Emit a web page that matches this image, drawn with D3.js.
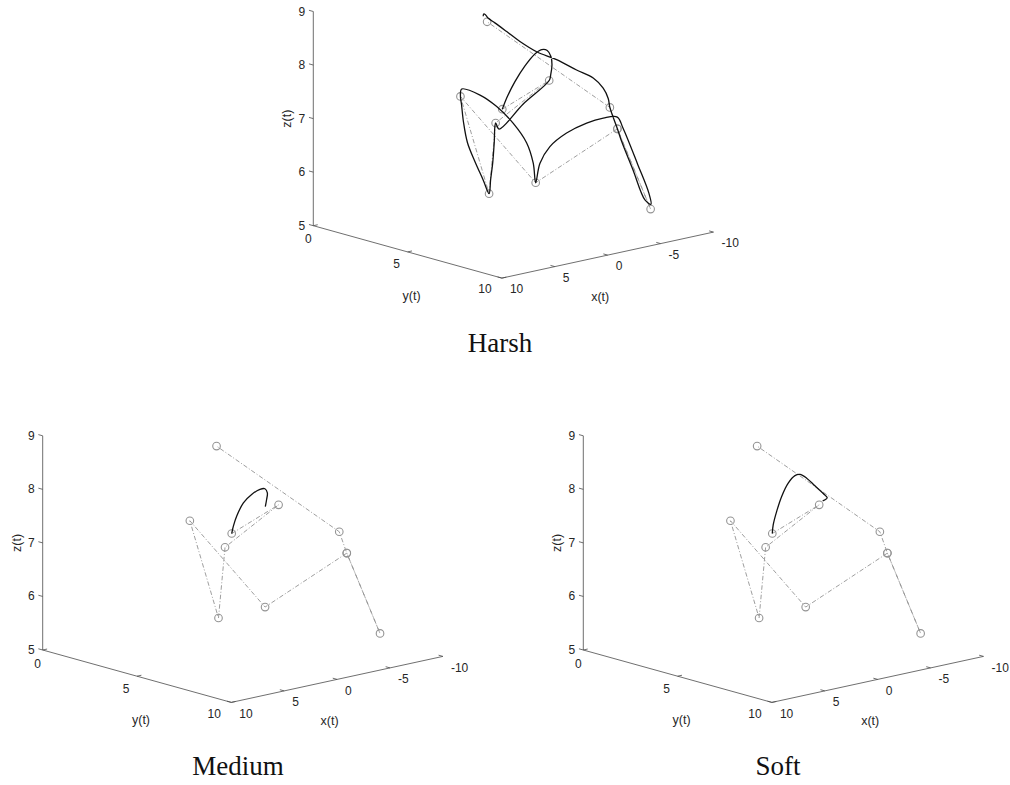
<!DOCTYPE html>
<html>
<head>
<meta charset="utf-8">
<script src="https://cdn.jsdelivr.net/npm/d3@7"></script>
<style>
  body { margin: 0; background: #fff; }
  text { font-family: "Liberation Sans", Arial, sans-serif; fill: #262626; }
  .title { font-family: "Liberation Serif", "DejaVu Serif", serif; fill: #111; }
</style>
</head>
<body>
<svg id="chart" width="1010" height="785"></svg>
<script>
// ---- axis ticks ----
const xTicks = [10, 5, 0, -5, -10];
const yTicks = [0, 5, 10];
const zTicks = [5, 6, 7, 8, 9];

// ---- reference waypoints, in the order they are visited ----
const wpX = [1.05, -1.6, 1.68, 4.08, 1.44, 1.46, -4.48, -5.84, -4.48, -3.77, 0.7];
const wpY = [5, 6, 5, 6, 3, 7, 8, 9, 8, 8, 4];
const wpZ = [7.28, 7.80, 7.05, 5.93, 7.34, 6.12, 6.97, 5.51, 6.97, 7.40, 8.8];

// ---- flown trajectory, harsh gains ----
const harshX = [1.05, 0.76, 0.21, -0.56, -1.32, -1.78, -2.13, -2.30, -2.22, -1.92, -1.6,
  -0.04, 1.54, 1.68, 2.35, 2.85, 3.58, 4.08, 3.74, 3.63, 3.27, 2.58, 1.88, 1.44,
  1.50, 0.66, 0.33, 0.01, 0.17, 0.62, 1.46, 1.33, 0.65, -0.57, -2.11, -3.41, -4.47,
  -4.83, -5.53, -6.03, -5.87, -5.66, -5.06, -4.55, -4.48, -3.77, -3.97, -4.03, -3.80,
  -3.12, -2.30, -1.31, -0.44, 0.10, 0.50, 0.59, 0.86, 1.03, 1.07];
const harshY = [5, 5.1, 5.2, 5.3, 5.4, 5.5, 5.6, 5.7, 5.8, 5.9, 6,
  5.5, 5.1, 5, 5.3, 5.5, 5.8, 6, 5.5, 5, 4.4, 3.8, 3.3, 3,
  3.1, 3.6, 4.3, 5, 5.8, 6.4, 7, 7.15, 7.3, 7.5, 7.7, 7.85, 8,
  8.1, 8.5, 8.8, 9, 8.8, 8.5, 8.2, 8, 8, 7.8, 7.5, 7.1,
  6.6, 6, 5.5, 5.1, 4.7, 4.3, 4, 4, 4, 4];
const harshZ = [7.28, 7.51, 7.78, 8.05, 8.25, 8.32, 8.30, 8.19, 8.05, 7.88, 7.80,
  7.38, 6.94, 7.05, 6.73, 6.40, 6.15, 5.93, 6.12, 6.41, 6.69, 6.99, 7.25, 7.34,
  7.49, 7.39, 7.23, 6.97, 6.69, 6.39, 6.12, 6.49, 6.79, 7.01, 7.15, 7.20, 7.19,
  6.98, 6.30, 5.78, 5.60, 5.67, 6.23, 6.74, 6.97, 7.40, 7.54, 7.70, 7.86,
  7.99, 8.16, 8.30, 8.49, 8.66, 8.80, 8.86, 8.94, 8.96, 8.92];

// ---- flown trajectory, medium gains ----
const mediumX = [1.05, 0.98, 0.76, 0.30, -0.30, -0.91, -1.29, -1.43, -1.27, -1.06];
const mediumY = [5, 5.05, 5.1, 5.2, 5.3, 5.4, 5.45, 5.5, 5.55, 5.6];
const mediumZ = [7.28, 7.42, 7.60, 7.84, 7.98, 8.06, 8.06, 7.98, 7.87, 7.75];

// ---- flown trajectory, soft gains ----
const softX = [1.05, 1.05, 0.82, 0.52, 0.08, -0.38, -0.76, -1.22, -1.73, -2.25, -2.45, -2.02];
const softY = [5, 5.05, 5.1, 5.2, 5.3, 5.4, 5.45, 5.55, 5.7, 5.85, 5.95, 5.95];
const softZ = [7.28, 7.45, 7.69, 7.97, 8.21, 8.34, 8.35, 8.27, 8.12, 7.97, 7.89, 7.85];

const zip = (xs, ys, zs) => xs.map((x, i) => ({ x, y: ys[i], z: zs[i] }));
const waypoints = zip(wpX, wpY, wpZ);

const panels = [
  { name: "Harsh",  ox: 313.3, oy: 225.7, path: zip(harshX, harshY, harshZ),   title: [500, 352] },
  { name: "Medium", ox: 42.7,  oy: 650,   path: zip(mediumX, mediumY, mediumZ), title: [238, 775] },
  { name: "Soft",   ox: 583.3, oy: 650,   path: zip(softX, softY, softZ),       title: [778, 775] }
];

// screen vectors spanned by the full x, y and z axis ranges (fixed view)
const XV = [211.6, -46.0];
const YV = [188.6, 52.4];
const ZV = [0, -214.2];

const svg = d3.select("#chart");

panels.forEach(p => {
  const fx = d3.scaleLinear().domain([10, -10]).range([0, 1]);
  const fy = d3.scaleLinear().domain([0, 10]).range([0, 1]);
  const fz = d3.scaleLinear().domain([5, 9]).range([0, 1]);
  const proj = (x, y, z) => [
    p.ox + fx(x) * XV[0] + fy(y) * YV[0] + fz(z) * ZV[0],
    p.oy + fx(x) * XV[1] + fy(y) * YV[1] + fz(z) * ZV[1]
  ];
  const g = svg.append("g");
  const axisColor = "#4a4a4a";

  const seg = (a, b) => g.append("line")
    .attr("x1", a[0]).attr("y1", a[1]).attr("x2", b[0]).attr("y2", b[1])
    .attr("stroke", axisColor).attr("stroke-width", 0.8);

  // axis lines
  seg(proj(10, 0, 5), proj(10, 0, 9));
  seg(proj(10, 0, 5), proj(10, 10, 5));
  seg(proj(10, 10, 5), proj(-10, 10, 5));

  const norm = v => { const l = Math.hypot(v[0], v[1]); return [v[0] / l, v[1] / l]; };
  const nx = norm(XV), ny = norm(YV);
  const tl = 4.5;

  // z axis
  zTicks.forEach(t => {
    const a = proj(10, 0, t);
    seg(a, [a[0] - ny[0] * tl, a[1] - ny[1] * tl]);
    g.append("text").attr("x", a[0] - 8).attr("y", a[1])
      .attr("text-anchor", "end").attr("dominant-baseline", "central")
      .attr("font-size", 12).text(t);
  });
  // y axis
  yTicks.forEach(t => {
    const a = proj(10, t, 5);
    seg(a, [a[0] + nx[0] * tl, a[1] + nx[1] * tl]);
    g.append("text").attr("x", a[0] - 5 - 1.2 * t).attr("y", a[1] + 13.6 - 0.23 * t)
      .attr("text-anchor", "middle").attr("dominant-baseline", "central")
      .attr("font-size", 12).text(t);
  });
  // x axis
  xTicks.forEach(t => {
    const a = proj(t, 10, 5);
    seg(a, [a[0] - ny[0] * tl, a[1] - ny[1] * tl]);
    g.append("text").attr("x", a[0] + 8).attr("y", a[1] + 11.2)
      .attr("text-anchor", "start").attr("dominant-baseline", "central")
      .attr("font-size", 12).text(t);
  });

  // axis titles
  const zl = proj(10, 0, 7);
  g.append("text").attr("transform", `translate(${zl[0] - 26},${zl[1]}) rotate(-90)`)
    .attr("text-anchor", "middle").attr("dominant-baseline", "central")
    .attr("font-size", 12.5).text("z(t)");
  const yl = proj(10, 5, 5);
  g.append("text").attr("x", yl[0] + 4).attr("y", yl[1] + 44)
    .attr("text-anchor", "middle").attr("dominant-baseline", "central")
    .attr("font-size", 12.5).text("y(t)");
  const xl = proj(0, 10, 5);
  g.append("text").attr("x", xl[0] - 7.5).attr("y", xl[1] + 41.6)
    .attr("text-anchor", "middle").attr("dominant-baseline", "central")
    .attr("font-size", 12.5).text("x(t)");

  // waypoint route
  const line = d3.line().x(d => proj(d.x, d.y, d.z)[0]).y(d => proj(d.x, d.y, d.z)[1]);
  g.append("path").datum(waypoints).attr("d", line)
    .attr("fill", "none").attr("stroke", "#939393").attr("stroke-width", 0.9)
    .attr("stroke-dasharray", "4.5,2,1,2");
  g.selectAll(".wp").data(waypoints).enter().append("circle")
    .attr("cx", d => proj(d.x, d.y, d.z)[0]).attr("cy", d => proj(d.x, d.y, d.z)[1])
    .attr("r", 3.8).attr("fill", "none").attr("stroke", "#949494").attr("stroke-width", 1.1);

  // flown trajectory
  const curve = d3.line().curve(d3.curveCatmullRom.alpha(0.5))
    .x(d => proj(d.x, d.y, d.z)[0]).y(d => proj(d.x, d.y, d.z)[1]);
  g.append("path").datum(p.path).attr("d", curve)
    .attr("fill", "none").attr("stroke", "#111").attr("stroke-width", 1.3);

  // panel title
  svg.append("text").attr("class", "title")
    .attr("x", p.title[0]).attr("y", p.title[1])
    .attr("text-anchor", "middle").attr("font-size", 27).text(p.name);
});
</script>
</body>
</html>
